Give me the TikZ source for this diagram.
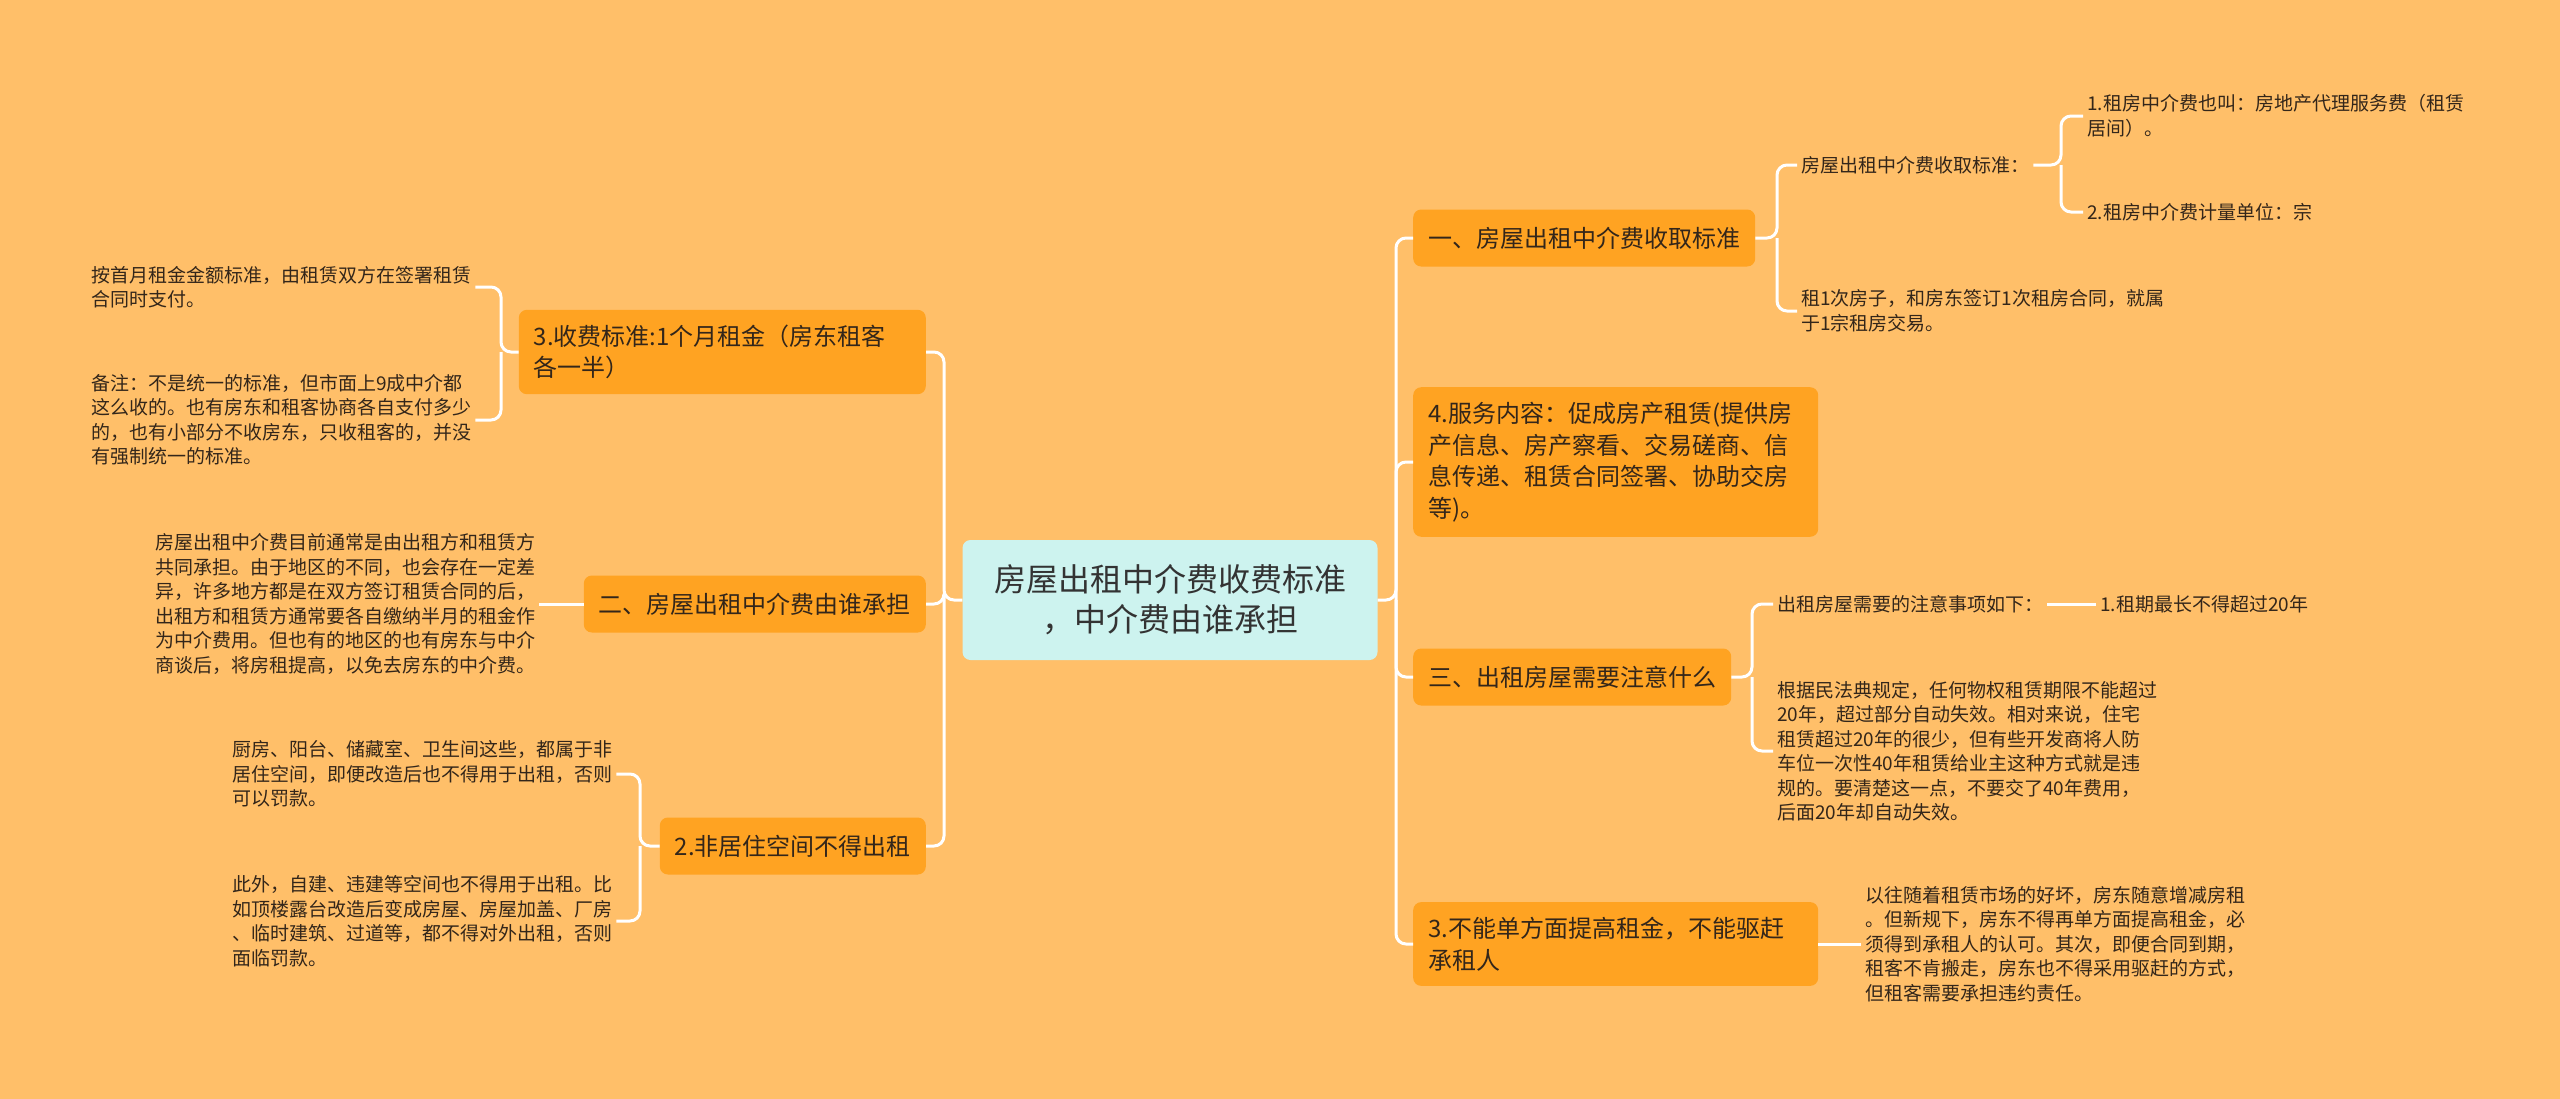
\documentclass[tikz,border=0pt]{standalone}
\usepackage{fontspec}
\setmainfont{Noto Sans CJK SC}
\usetikzlibrary{positioning}

\definecolor{bgorange}{HTML}{FFBF69}
\definecolor{topicorange}{HTML}{FFA322}
\definecolor{rootcyan}{HTML}{CDF3EF}
\definecolor{inkbrown}{HTML}{33261A}

\tikzset{
  root/.style = {fill=rootcyan, rounded corners=8pt, align=center, minimum width=415pt,
                 minimum height=120pt, font=\fontsize{32}{40}\selectfont, text=black!80},
  topic/.style = {fill=topicorange, rounded corners=8pt, align=left, inner xsep=15pt,
                  inner ysep=15pt, minimum height=57pt, font=\fontsize{24}{31.5}\selectfont, text=inkbrown},
  leaf/.style = {align=left, inner sep=4pt, font=\fontsize{19}{24.5}\selectfont, text=inkbrown},
  link/.style = {draw=white, line width=3pt, rounded corners=10pt}
}

\begin{document}
\begin{tikzpicture}[x=1pt, y=-1pt]
\useasboundingbox (0,0) rectangle (2560,1098);
\fill [bgorange] (-10,-10) rectangle (2570,1108);

% centre
\node [root] (root) at (1170,600) {房屋出租中介费收费标准\\，中介费由谁承担};

% right side
\node [topic, anchor=west] (r1) at (1413,238) {一、房屋出租中介费收取标准};
\node [topic, anchor=west, text width=375pt] (r2) at (1413,462) {4.服务内容：促成房产租赁(提供房\\产信息、房产察看、交易磋商、信\\息传递、租赁合同签署、协助交房\\等)。};
\node [topic, anchor=west] (r3) at (1413,677) {三、出租房屋需要注意什么};
\node [topic, anchor=west, text width=375pt] (r4) at (1413,944) {3.不能单方面提高租金，不能驱赶\\承租人};

\node [leaf, anchor=west] (r1a) at (1797,165) {房屋出租中介费收取标准：};
\node [leaf, anchor=west] (r1a1) at (2083,116) {1.租房中介费也叫：房地产代理服务费（租赁\\居间）。};
\node [leaf, anchor=west] (r1a2) at (2083,212) {2.租房中介费计量单位：宗};
\node [leaf, anchor=west] (r1b) at (1797,311) {租1次房子，和房东签订1次租房合同，就属\\于1宗租房交易。};

\node [leaf, anchor=west] (r3a) at (1773,604) {出租房屋需要的注意事项如下：};
\node [leaf, anchor=west] (r3a1) at (2096,604) {1.租期最长不得超过20年};
\node [leaf, anchor=west] (r3b) at (1773,751) {根据民法典规定，任何物权租赁期限不能超过\\20年，超过部分自动失效。相对来说，住宅\\租赁超过20年的很少，但有些开发商将人防\\车位一次性40年租赁给业主这种方式就是违\\规的。要清楚这一点，不要交了40年费用，\\后面20年却自动失效。};

\node [leaf, anchor=west] (r4a) at (1861,944) {以往随着租赁市场的好坏，房东随意增减房租\\。但新规下，房东不得再单方面提高租金，必\\须得到承租人的认可。其次，即便合同到期，\\租客不肯搬走，房东也不得采用驱赶的方式，\\但租客需要承担违约责任。};

% left side
\node [topic, anchor=east, text width=377pt] (l1) at (926,352) {3.收费标准:1个月租金（房东租客\\各一半）};
\node [topic, anchor=east] (l2) at (926,604) {二、房屋出租中介费由谁承担};
\node [topic, anchor=east] (l3) at (926,846) {2.非居住空间不得出租};

\node [leaf, anchor=west] (l1a) at (87,287) {按首月租金金额标准，由租赁双方在签署租赁\\合同时支付。};
\node [leaf, anchor=west] (l1b) at (87,420) {备注：不是统一的标准，但市面上9成中介都\\这么收的。也有房东和租客协商各自支付多少\\的，也有小部分不收房东，只收租客的，并没\\有强制统一的标准。};
\node [leaf, anchor=west] (l2a) at (151,604) {房屋出租中介费目前通常是由出租方和租赁方\\共同承担。由于地区的不同，也会存在一定差\\异，许多地方都是在双方签订租赁合同的后，\\出租方和租赁方通常要各自缴纳半月的租金作\\为中介费用。但也有的地区的也有房东与中介\\商谈后，将房租提高，以免去房东的中介费。};
\node [leaf, anchor=west] (l3a) at (228,774) {厨房、阳台、储藏室、卫生间这些，都属于非\\居住空间，即便改造后也不得用于出租，否则\\可以罚款。};
\node [leaf, anchor=west] (l3b) at (228,921) {此外，自建、违建等空间也不得用于出租。比\\如顶楼露台改造后变成房屋、房屋加盖、厂房\\、临时建筑、过道等，都不得对外出租，否则\\面临罚款。};

% junctions
\coordinate (rsp) at (1396,600);
\coordinate (lsp) at (944,600);
\coordinate (r1j) at (1777,238);
\coordinate (r1aj) at (2061,165);
\coordinate (r3j) at (1752,677);
\coordinate (l1j) at (501,352);
\coordinate (l3j) at (640,846);

% connectors
\draw [link] (root.east) -- (rsp) |- (r1.west);
\draw [link] (rsp) |- (r2.west);
\draw [link] (rsp) |- (r3.west);
\draw [link] (rsp) |- (r4.west);
\draw [link] (r1.east) -- (r1j) |- (r1a.west);
\draw [link] (r1j) |- (r1b.west);
\draw [link] (r1a.east) -- (r1aj) |- (r1a1.west);
\draw [link] (r1aj) |- (r1a2.west);
\draw [link] (r3.east) -- (r3j) |- (r3a.west);
\draw [link] (r3j) |- (r3b.west);
\draw [link] (r3a.east) -- (r3a1.west);
\draw [link] (r4.east) -- (r4a.west);

\draw [link] (root.west) -- (lsp) |- (l1.east);
\draw [link] (lsp) |- (l2.east);
\draw [link] (lsp) |- (l3.east);
\draw [link] (l1.west) -- (l1j) |- (l1a.east);
\draw [link] (l1j) |- (l1b.east);
\draw [link] (l2.west) -- (l2a.east);
\draw [link] (l3.west) -- (l3j) |- (l3a.east);
\draw [link] (l3j) |- (l3b.east);
\end{tikzpicture}
\end{document}
